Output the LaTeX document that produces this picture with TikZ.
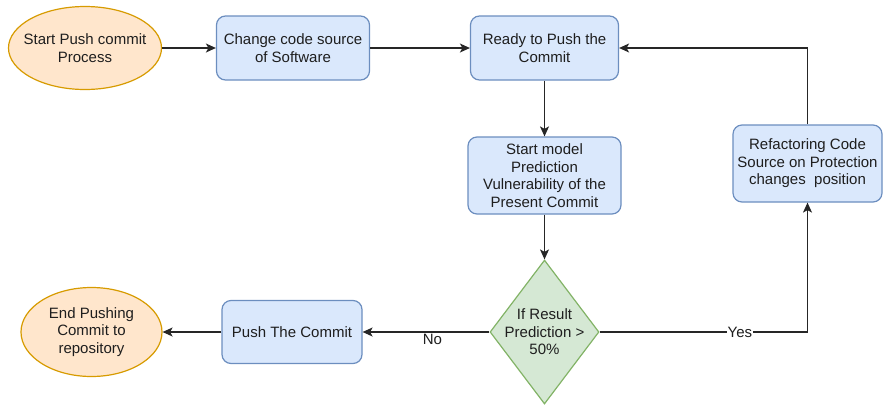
\documentclass[tikz,border=0pt]{standalone}
\usepackage{fontspec}
\setmainfont{Liberation Sans}
\usetikzlibrary{shapes.geometric,arrows.meta}
\definecolor{ofill}{HTML}{FFE6CC}\definecolor{oline}{HTML}{D79B00}
\definecolor{bfill}{HTML}{DAE8FC}\definecolor{bline}{HTML}{6C8EBF}
\definecolor{gfill}{HTML}{D5E8D4}\definecolor{gline}{HTML}{82B366}
\definecolor{txt}{HTML}{1E1E1E}
\begin{document}
\begin{tikzpicture}[x=1pt,y=-1pt,
 every node/.style={font=\fontsize{15}{17.6}\selectfont, text=txt},
 term/.style={ellipse, draw=oline, fill=ofill, line width=1.2pt, inner sep=0pt},
 proc/.style={rectangle, rounded corners=9pt, draw=bline, fill=bfill, line width=1.2pt, inner sep=0pt, align=center},
 dec/.style={diamond, draw=gline, fill=gfill, line width=1.2pt, inner sep=0pt},
 lbl/.style={align=center, inner sep=0pt},
 conn/.style={-{Stealth[length=10pt,width=9pt,inset=2.5pt]}, line width=1.2pt, draw=black!85},
 elbl/.style={fill=white, inner sep=1pt}
]
\useasboundingbox (0,0) rectangle (883,405);
\node[term, minimum width=153pt, minimum height=83pt, label={[lbl]center:{Start Push commit\\Process}}] (st) at (85,48) {};
\node[proc, minimum width=153pt, minimum height=64pt] (ch) at (293,48) {Change code source\\of Software};
\node[proc, minimum width=148pt, minimum height=64pt] (rd) at (544.5,48) {Ready to Push the\\Commit};
\node[proc, minimum width=153pt, minimum height=77pt] (sm) at (544.5,175.5) {Start model\\Prediction\\Vulnerability of the\\Present Commit};
\node[proc, minimum width=149pt, minimum height=77pt] (rf) at (807.5,163.5) {Refactoring Code\\Source on Protection\\changes\ \ position};
\node[dec, minimum width=109pt, minimum height=144pt, label={[lbl]center:{If Result\\Prediction >\\50\%}}] (dc) at (544.5,332) {};
\node[proc, minimum width=140pt, minimum height=63pt] (pu) at (292,332) {Push The Commit};
\node[term, minimum width=141pt, minimum height=89pt, label={[lbl]center:{End Pushing\\Commit to\\repository}}] (en) at (91.5,332) {};
\draw[conn] (st) -- (ch);
\draw[conn] (ch) -- (rd);
\draw[conn] (rd) -- (sm);
\draw[conn] (sm) -- (dc);
\draw[conn] (rf.north) |- (rd.east);
\draw[conn] (dc.east) -| node[pos=0.3375, elbl] {Yes} (rf.south);
\draw[conn] (dc.west) -- node[pos=0.45, yshift=-7pt, elbl] {No} (pu.east);
\draw[conn] (pu) -- (en);
\end{tikzpicture}
\end{document}
